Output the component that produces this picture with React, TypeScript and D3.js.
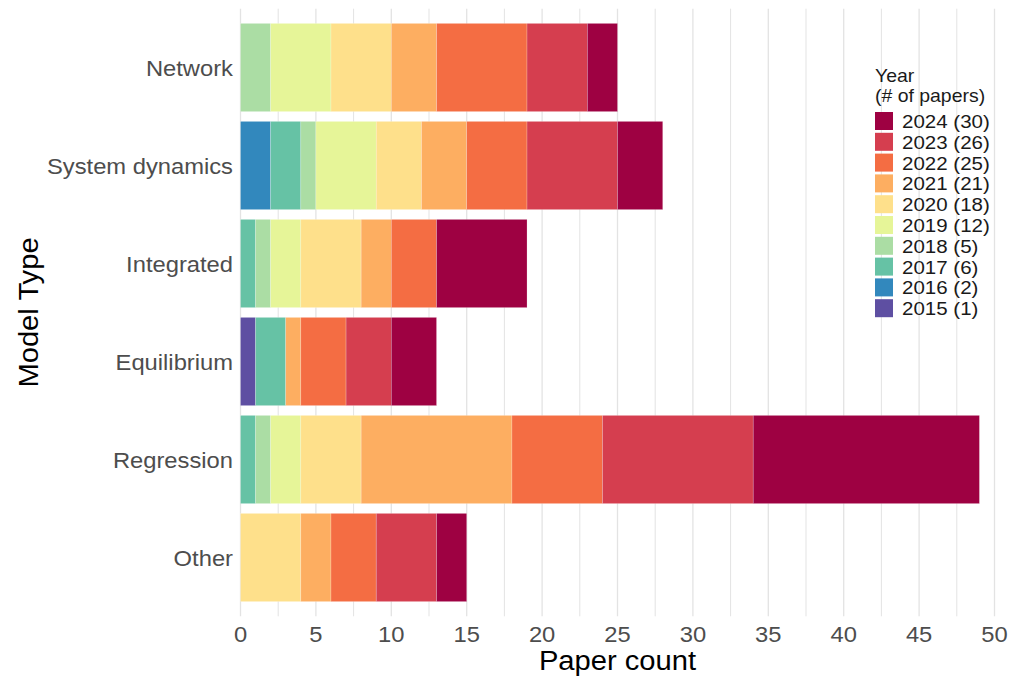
import React from "react";
import * as d3 from "d3";

const categories = ["Network", "System dynamics", "Integrated", "Equilibrium", "Regression", "Other"];
const years = ["2015", "2016", "2017", "2018", "2019", "2020", "2021", "2022", "2023", "2024"];
const yearPaperCounts = [1, 2, 6, 5, 12, 18, 21, 25, 26, 30];
const yearColors = ["#5e4fa2", "#3288bd", "#66c2a5", "#abdda4", "#e6f598", "#fee08b", "#fdae61", "#f46d43", "#d53e4f", "#9e0142"];

// counts per category (same order as categories)
const y2015 = [0, 0, 0, 1, 0, 0];
const y2016 = [0, 2, 0, 0, 0, 0];
const y2017 = [0, 2, 1, 2, 1, 0];
const y2018 = [2, 1, 1, 0, 1, 0];
const y2019 = [4, 4, 2, 0, 2, 0];
const y2020 = [4, 3, 4, 0, 4, 4];
const y2021 = [3, 3, 2, 1, 10, 2];
const y2022 = [6, 4, 3, 3, 6, 3];
const y2023 = [4, 6, 0, 3, 10, 4];
const y2024 = [2, 3, 6, 3, 15, 2];
const seriesByYear = [y2015, y2016, y2017, y2018, y2019, y2020, y2021, y2022, y2023, y2024];

const xTicks = [0, 5, 10, 15, 20, 25, 30, 35, 40, 45, 50];
const xGrid = d3.range(0, 50.01, 2.5);

const SX = 1.08;

function T(props: { x: number; y: number; anchor?: string; size: number; fill: string; rotate?: number; children: any }) {
  const { x, y, anchor = "start", size, fill, rotate = 0, children } = props;
  const tf = rotate ? `translate(${x},${y}) rotate(${rotate}) scale(${SX},1)` : `translate(${x},${y}) scale(${SX},1)`;
  return (
    <text transform={tf} textAnchor={anchor} fontSize={size} fill={fill}>{children}</text>
  );
}

export default function App() {
  const W = 1012, H = 677;
  const panel = { left: 240.5, right: 994.5, top: 8.7, bottom: 616.3 };

  const x = d3.scaleLinear().domain([0, 50]).range([panel.left, panel.right]);
  const y = d3.scaleBand<string>().domain(categories).range([panel.top, panel.bottom]).paddingInner(0.1).paddingOuter(0.15);

  const rows = categories.map((c, i) => {
    const r: any = { category: c };
    years.forEach((yr, j) => (r[yr] = seriesByYear[j][i]));
    return r;
  });
  const stack = d3.stack<any>().keys(years);
  const stacked = stack(rows);
  const color = d3.scaleOrdinal<string, string>().domain(years).range(yearColors);

  const font = "'Liberation Sans', Arial, Helvetica, sans-serif";
  const legendX = 875, legendKeyTop = 112, keyStep = 20.8, keySize = 18;
  const legendYears = [...years].reverse();
  const legendCounts = [...yearPaperCounts].reverse();

  return (
    <svg width={W} height={H} style={{ position: "absolute", left: 0, top: 0, background: "#fff" }} fontFamily={font}>
      <rect x={0} y={0} width={W} height={H} fill="#fff" />
      {xGrid.map((v) => (
        <line key={"g" + v} x1={x(v)} x2={x(v)} y1={panel.top} y2={panel.bottom}
          stroke="#e3e3e3" strokeWidth={v % 5 === 0 ? 1.3 : 1} />
      ))}
      {stacked.map((s) => (
        <g key={s.key} fill={color(s.key)}>
          {s.map((d, i) => (
            d[1] - d[0] > 0 ? (
              <rect key={i} x={x(d[0])} width={x(d[1]) - x(d[0])} y={y(d.data.category)} height={y.bandwidth()}
                stroke="#ffffff" strokeOpacity={0.35} strokeWidth={0.6} />
            ) : null
          ))}
        </g>
      ))}
      {categories.map((c) => (
        <T key={c} x={233} y={(y(c) as number) + y.bandwidth() / 2 + 8} anchor="end" size={22} fill="#4d4d4d">{c}</T>
      ))}
      {xTicks.map((v) => (
        <T key={v} x={x(v)} y={642} anchor="middle" size={22} fill="#4d4d4d">{v}</T>
      ))}
      <T x={(panel.left + panel.right) / 2} y={670} anchor="middle" size={27} fill="#000">Paper count</T>
      <T x={38} y={(panel.top + panel.bottom) / 2} rotate={-90} anchor="middle" size={27} fill="#000">Model Type</T>
      <g>
        <T x={legendX} y={82} size={18} fill="#1a1a1a">Year</T>
        <T x={legendX} y={102} size={18} fill="#1a1a1a">(# of papers)</T>
        {legendYears.map((yr, i) => (
          <g key={yr}>
            <rect x={legendX} y={legendKeyTop + i * keyStep} width={keySize} height={keySize} fill={color(yr)} />
            <T x={902} y={legendKeyTop + i * keyStep + 16} size={19} fill="#1a1a1a">{`${yr} (${legendCounts[i]})`}</T>
          </g>
        ))}
      </g>
    </svg>
  );
}
